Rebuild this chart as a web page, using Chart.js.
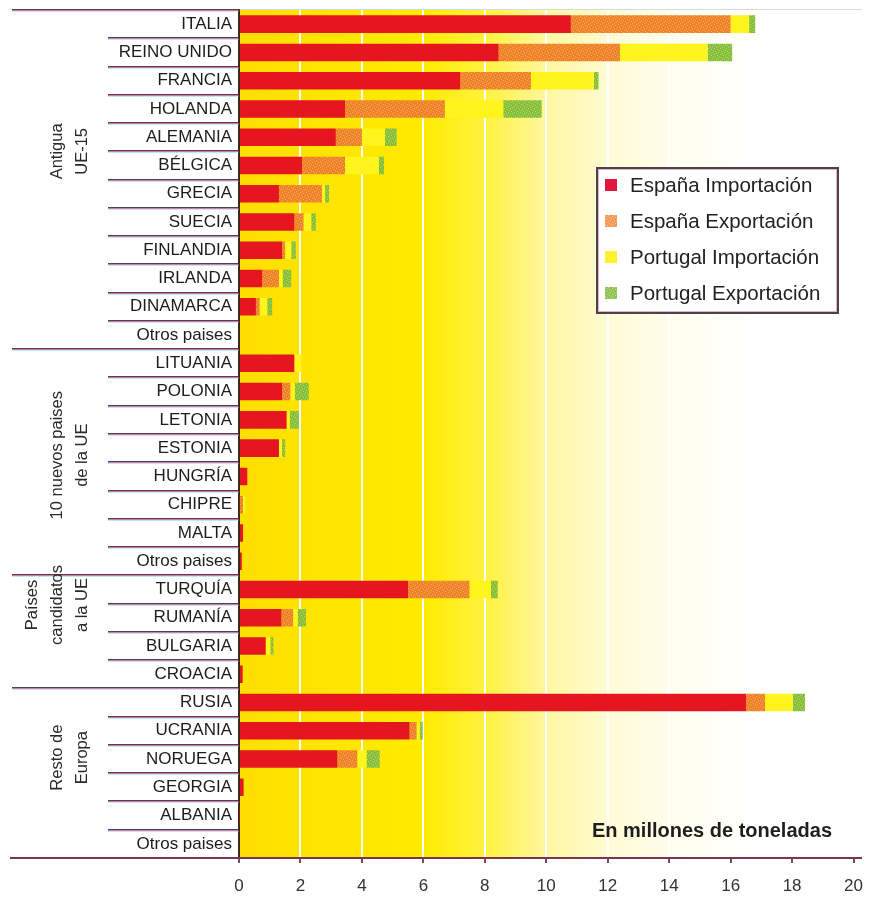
<!DOCTYPE html>
<html lang="es">
<head>
<meta charset="utf-8">
<title>Tráfico con Europa</title>
<script src="https://cdn.jsdelivr.net/npm/chart.js@4.4.1/dist/chart.umd.min.js"></script>
<style>
  html, body { margin: 0; padding: 0; background: #fff; }
  #wrap { width: 876px; height: 899px; position: relative; }
</style>
</head>
<body>
<div id="wrap"><canvas id="chart" width="876" height="899"></canvas></div>
<script>
// países, de arriba abajo
const categories = [
  'ITALIA', 'REINO UNIDO', 'FRANCIA', 'HOLANDA', 'ALEMANIA', 'BÉLGICA', 'GRECIA', 'SUECIA',
  'FINLANDIA', 'IRLANDA', 'DINAMARCA', 'Otros paises',
  'LITUANIA', 'POLONIA', 'LETONIA', 'ESTONIA', 'HUNGRÍA', 'CHIPRE', 'MALTA', 'Otros paises',
  'TURQUÍA', 'RUMANÍA', 'BULGARIA', 'CROACIA',
  'RUSIA', 'UCRANIA', 'NORUEGA', 'GEORGIA', 'ALBANIA', 'Otros paises'
];

// millones de toneladas
const espanaImportacion = [10.8, 8.45, 7.2, 3.45, 3.15, 2.05, 1.3, 1.8, 1.4, 0.75, 0.55, 0,
  1.8, 1.4, 1.55, 1.3, 0.27, 0.03, 0.13, 0.09,
  5.5, 1.38, 0.87, 0.12,
  16.5, 5.55, 3.2, 0.15, 0.02, 0];
const espanaExportacion = [5.2, 3.95, 2.3, 3.25, 0.85, 1.4, 1.4, 0.3, 0.1, 0.55, 0.12, 0,
  0, 0.27, 0, 0, 0, 0.1, 0, 0,
  2.0, 0.38, 0, 0,
  0.62, 0.23, 0.65, 0, 0, 0];
const portugalImportacion = [0.6, 2.85, 2.05, 1.9, 0.75, 1.1, 0.1, 0.25, 0.2, 0.12, 0.25, 0,
  0.23, 0.15, 0.1, 0.1, 0, 0.08, 0, 0,
  0.7, 0.15, 0.15, 0,
  0.9, 0.1, 0.3, 0, 0, 0];
const portugalExportacion = [0.2, 0.8, 0.15, 1.25, 0.38, 0.17, 0.13, 0.15, 0.15, 0.28, 0.16, 0,
  0, 0.45, 0.3, 0.1, 0, 0, 0, 0,
  0.22, 0.27, 0.1, 0,
  0.4, 0.1, 0.43, 0, 0, 0];

const xTicks = [0, 2, 4, 6, 8, 10, 12, 14, 16, 18, 20];

// bloques de países (primera y última fila de cada uno)
const groupNames = [['Antigua', 'UE-15'], ['10 nuevos paises', 'de la UE'], ['Países', 'candidatos', 'a la UE'], ['Resto de', 'Europa']];
const groupRows = [[0, 11], [12, 19], [20, 23], [24, 29]];

const FONT = '"Liberation Sans", Arial, Helvetica, sans-serif';

// textura punteada tipo impresión
function speckle(base, dot){
  const c = document.createElement('canvas');
  c.width = 6; c.height = 6;
  const g = c.getContext('2d');
  g.fillStyle = base; g.fillRect(0, 0, 6, 6);
  g.fillStyle = dot;
  [[0,0],[3,1],[1,3],[4,4],[5,2],[2,5]].forEach(([x, y]) => g.fillRect(x, y, 1, 1));
  return g.createPattern(c, 'repeat');
}

const ctx0 = document.getElementById('chart').getContext('2d');
const colors = {
  espImp: '#e5161f',
  espExp: speckle('#ef8127', '#f6aa5e'),
  porImp: '#fff41c',
  porExp: speckle('#86c03a', '#b6d86a')
};
const legendSwatch = ['#e3173d', speckle('#f29a55', '#f8c48e'), '#fff22a', speckle('#8ec456', '#c2df88')];

// posición vertical (en filas) del centro de cada rótulo de bloque
const groupLabelRow = [5.0, 15.75, 21.05, 26.45];

function rowY(a, k){ return a.top + k * (a.bottom - a.top) / categories.length; }

function sepLine(ctx, x1, x2, y){
  ctx.lineWidth = 1;
  ctx.strokeStyle = 'rgba(55,45,55,0.9)';
  ctx.beginPath(); ctx.moveTo(x1, y - 0.5); ctx.lineTo(x2, y - 0.5); ctx.stroke();
  ctx.strokeStyle = 'rgba(205,45,115,0.65)';
  ctx.beginPath(); ctx.moveTo(x1, y + 0.5); ctx.lineTo(x2, y + 0.5); ctx.stroke();
  ctx.strokeStyle = 'rgba(120,205,235,0.45)';
  ctx.beginPath(); ctx.moveTo(x1, y + 1.5); ctx.lineTo(x2, y + 1.5); ctx.stroke();
}

const decor = {
  id: 'decor',
  beforeDraw(chart){
    const { ctx, chartArea: a } = chart;
    const g = ctx.createLinearGradient(a.left, 0, a.right, 0);
    g.addColorStop(0, '#ffdf00');
    g.addColorStop(0.1, '#ffe300');
    g.addColorStop(0.3, '#ffeb00');
    g.addColorStop(0.4, '#fff23e');
    g.addColorStop(0.5, '#fff7a0');
    g.addColorStop(0.6, '#fffbd4');
    g.addColorStop(0.72, '#fffef0');
    g.addColorStop(0.86, '#ffffff');
    ctx.save();
    ctx.fillStyle = g;
    ctx.fillRect(a.left, a.top, a.right - a.left, a.bottom - a.top);
    ctx.restore();
  },
  afterDraw(chart){
    const { ctx, chartArea: a } = chart;
    ctx.save();
    const starts = groupRows.map(r => r[0]);

    // separadores entre filas
    for (let k = 1; k < categories.length; k++){
      const x1 = starts.includes(k) ? 12 : 108;
      sepLine(ctx, x1, a.left, Math.round(rowY(a, k)));
    }
    sepLine(ctx, 12, a.left, Math.round(a.top));
    ctx.strokeStyle = 'rgba(150,150,150,0.35)';
    ctx.beginPath(); ctx.moveTo(a.left, a.top - 0.5); ctx.lineTo(862, a.top - 0.5); ctx.stroke();

    // eje inferior
    ctx.lineWidth = 2;
    ctx.strokeStyle = '#7a3550';
    ctx.beginPath(); ctx.moveTo(10, a.bottom); ctx.lineTo(862, a.bottom); ctx.stroke();

    // rótulos de bloque, en vertical
    ctx.font = '16.5px ' + FONT;
    ctx.fillStyle = '#2a2a2a';
    ctx.textAlign = 'center';
    ctx.textBaseline = 'middle';
    groupNames.forEach((lines, i) => {
      const cy = rowY(a, groupLabelRow[i]);
      ctx.save();
      ctx.translate(0, cy);
      ctx.rotate(-Math.PI / 2);
      lines.forEach((t, j) => {
        const x = 82 - (lines.length - 1 - j) * 25;
        ctx.fillText(t, 0, x);
      });
      ctx.restore();
    });

    // leyenda
    const bx = 597, by = 168, bw = 241, bh = 145;
    ctx.fillStyle = '#ffffff';
    ctx.fillRect(bx, by, bw, bh);
    ctx.lineWidth = 2;
    ctx.strokeStyle = '#4a4448';
    ctx.strokeRect(bx, by, bw, bh);
    ctx.strokeStyle = 'rgba(200,60,120,0.4)';
    ctx.lineWidth = 1;
    ctx.strokeRect(bx + 1.5, by + 1.5, bw - 3, bh - 3);
    ctx.font = '20.5px ' + FONT;
    ctx.textAlign = 'left';
    ctx.textBaseline = 'middle';
    chart.data.datasets.forEach((ds, i) => {
      const y = 186 + i * 36;
      ctx.fillStyle = legendSwatch[i];
      ctx.fillRect(605, y - 7, 12, 12);
      ctx.fillStyle = '#222';
      ctx.fillText(ds.label, 630, y);
    });

    // unidad
    ctx.font = 'bold 20px ' + FONT;
    ctx.textAlign = 'right';
    ctx.textBaseline = 'alphabetic';
    ctx.fillStyle = '#1e1e1e';
    ctx.fillText('En millones de toneladas', 832, 837);
    ctx.restore();
  }
};

new Chart(ctx0, {
  type: 'bar',
  data: {
    labels: categories,
    datasets: [
      { label: 'España Importación', data: espanaImportacion, backgroundColor: colors.espImp },
      { label: 'España Exportación', data: espanaExportacion, backgroundColor: colors.espExp },
      { label: 'Portugal Importación', data: portugalImportacion, backgroundColor: colors.porImp },
      { label: 'Portugal Exportación', data: portugalExportacion, backgroundColor: colors.porExp }
    ]
  },
  options: {
    responsive: false,
    animation: false,
    indexAxis: 'y',
    layout: { padding: { top: 10, right: 20, left: 0, bottom: 0 } },
    datasets: { bar: { categoryPercentage: 1, barPercentage: 0.62, borderWidth: 0 } },
    plugins: { legend: { display: false }, tooltip: { enabled: false } },
    scales: {
      x: {
        stacked: true,
        min: 0, max: 20,
        afterBuildTicks(s){ s.ticks = xTicks.map(v => ({ value: v })); },
        ticks: { font: { family: FONT, size: 17 }, color: '#333', padding: 13 },
        grid: { color: '#ffffff', lineWidth: 2, tickLength: 5, tickColor: '#7a4a5a', tickWidth: 2 },
        border: { display: false },
        afterFit(s){ s.height = 41; }
      },
      y: {
        stacked: true,
        ticks: { autoSkip: false, font: { family: FONT, size: 17 }, color: '#1c1c1c', padding: 7 },
        grid: { display: false, drawTicks: false },
        border: { display: true, color: '#3a2a1c', width: 2 },
        afterFit(s){ s.width = 239; s.paddingTop = 0; s.paddingBottom = 0; }
      }
    }
  },
  plugins: [decor]
});
</script>
</body>
</html>
